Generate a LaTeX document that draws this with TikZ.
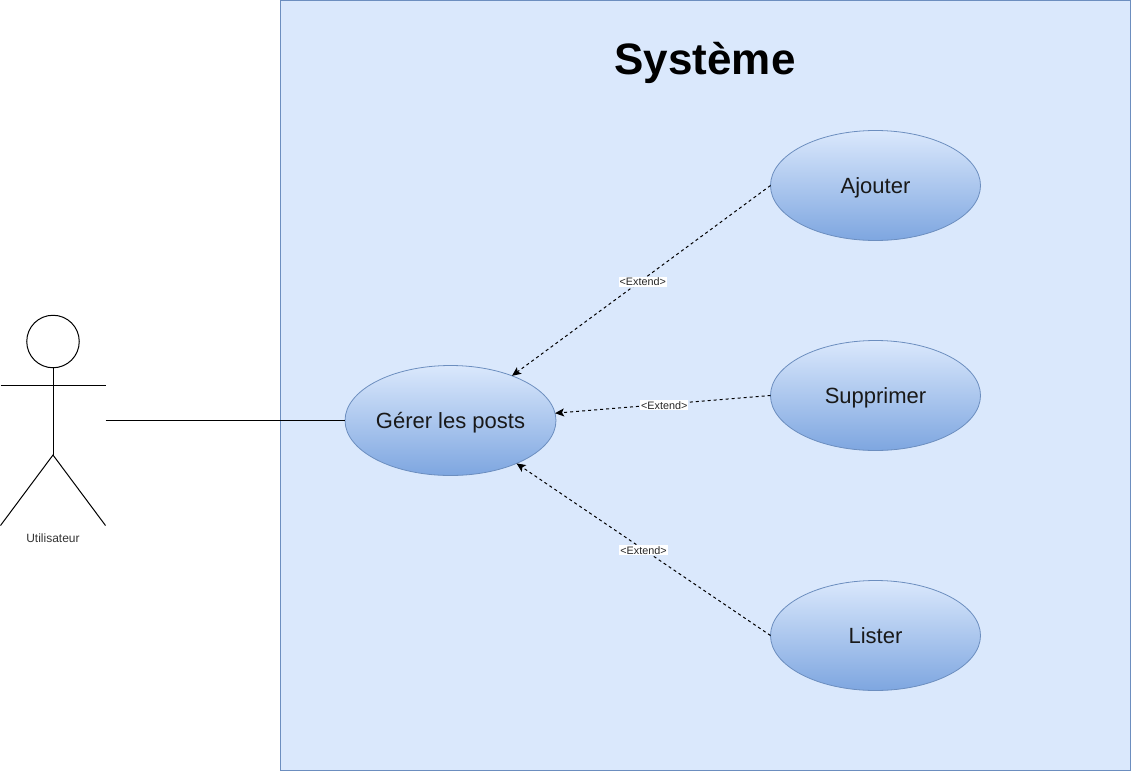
\documentclass[tikz,border=0pt]{standalone}
\usepackage{fontspec}
\setmainfont{Liberation Sans}
\usetikzlibrary{arrows.meta,shapes.geometric}
\definecolor{sysfill}{HTML}{DAE8FC}
\definecolor{sysline}{HTML}{6C8EBF}
\definecolor{ucbottom}{HTML}{7EA6E0}
\tikzset{
  usecase/.style={ellipse,draw=sysline,line width=0.8pt,top color=sysfill,bottom color=ucbottom,
    minimum width=210pt,minimum height=110pt,inner sep=0pt,outer sep=0pt,
    font=\fontsize{22}{24}\selectfont,text=black!90,text height=15.5pt,text depth=0pt},
  extendline/.style={draw=black,line width=1pt,dash pattern=on 3pt off 3pt,
    -{Stealth[length=9pt,width=8pt,inset=2pt]}},
  extendlabel/.style={fill=white,inner xsep=1pt,inner ysep=1pt,font=\fontsize{10.8}{12}\selectfont,text=black!85,yshift=-1pt},
  actorline/.style={draw=black,line width=1pt}
}
\begin{document}
\begin{tikzpicture}[x=1pt,y=-1pt]
\useasboundingbox (0,0) rectangle (1131,771);
\node[draw=sysline,fill=sysfill,line width=1pt,minimum width=850pt,minimum height=770pt,inner sep=0pt,outer sep=0pt] (system) at (705.5,385.5) {};
\node[font=\bfseries\fontsize{44}{50}\selectfont] (title) at (705,63) {Système};
\node[usecase] (gerer) at (450.5,420.5) {Gérer les posts};
\node[usecase] (ajouter) at (875.5,185.5) {Ajouter};
\node[usecase] (supprimer) at (875.5,395.5) {Supprimer};
\node[usecase] (lister) at (875.5,635.5) {Lister};
% actor
\node[minimum width=105pt,minimum height=210pt,inner sep=0pt,outer sep=0pt] (actor) at (53,420.5) {};
\node[circle,draw=black,line width=1pt,minimum size=52.5pt,inner sep=0pt,outer sep=0pt] (head) at (53,341.5) {};
\coordinate (hip) at (53,455);
\coordinate (armL) at (0.5,385.5);
\coordinate (armR) at (105.5,385.5);
\coordinate (footL) at (0.5,525.5);
\coordinate (footR) at (105.5,525.5);
\draw[actorline] (head.south) -- (hip);
\draw[actorline] (armL) -- (armR);
\draw[actorline] (footL) -- (hip) -- (footR);
\node[font=\fontsize{12}{13}\selectfont,text=black!80] (actorlabel) at (53,538.5) {Utilisateur};
\draw[actorline] (actor.east) -- (gerer.west);
\draw[extendline] (ajouter.west) -- (gerer.36) node[pos=0.5,solid,extendlabel,xshift=1.5pt] (l1) {<Extend>};
\draw[extendline] (supprimer.west) -- (gerer.4.6) node[pos=0.5,solid,extendlabel,xshift=1.5pt] (l2) {<Extend>};
\draw[extendline] (lister.west) -- (gerer.-33.4) node[pos=0.5,solid,extendlabel] (l3) {<Extend>};
\end{tikzpicture}
\end{document}
